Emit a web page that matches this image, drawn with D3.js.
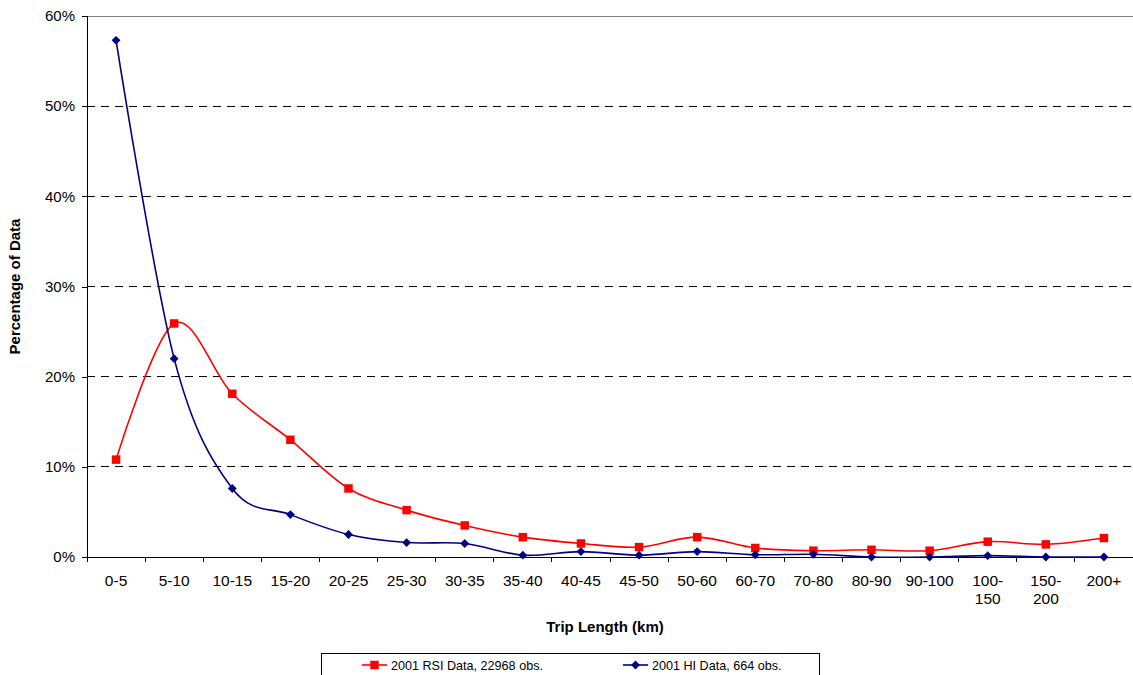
<!DOCTYPE html>
<html>
<head>
<meta charset="utf-8">
<script src="https://cdn.jsdelivr.net/npm/d3@7"></script>
<style>
  html, body { margin: 0; padding: 0; background: #fff; }
  svg { display: block; font-family: Arial, "Liberation Sans", sans-serif; }
</style>
</head>
<body>
<svg id="chart" width="1133" height="675"></svg>
<script>
// Trip length bins (km); "100-150" and "150-200" wrap onto two lines
const categories = ["0-5","5-10","10-15","15-20","20-25","25-30","30-35","35-40","40-45",
  "45-50","50-60","60-70","70-80","80-90","90-100","100-150","150-200","200+"];

// Share of trips in each bin (%)
const rsiValues = [10.8, 25.9, 18.1, 13.0, 7.6, 5.2, 3.5, 2.2, 1.5, 1.1, 2.2, 1.0, 0.7, 0.8, 0.7, 1.7, 1.4, 2.1];
const hiValues  = [57.3, 22.0, 7.6, 4.7, 2.5, 1.6, 1.5, 0.2, 0.6, 0.2, 0.6, 0.25, 0.3, 0.0, 0.0, 0.15, 0.0, 0.0];

const yTicks = [0, 10, 20, 30, 40, 50, 60];

const seriesNames = ["2001 RSI Data, 22968 obs.", "2001 HI Data, 664 obs."];

const svg = d3.select("#chart");
const margin = { left: 87, top: 16, right: 0, bottom: 118 };
const W = 1133, H = 675;
const plotW = W - margin.left - margin.right;
const plotH = H - margin.top - margin.bottom;

const x = d3.scaleBand().domain(categories).range([margin.left, margin.left + plotW]).padding(0);
const y = d3.scaleLinear().domain([0, 60]).range([margin.top + plotH, margin.top]);

// Dashed horizontal gridlines (60% is the plot-area border)
svg.append("g").selectAll("line")
  .data(yTicks.filter(t => t > 0 && t < 60))
  .join("line")
  .attr("x1", margin.left).attr("x2", margin.left + plotW)
  .attr("y1", d => y(d)).attr("y2", d => y(d))
  .attr("stroke", "#000").attr("stroke-width", 1)
  .attr("stroke-dasharray", "8,6")
  .attr("shape-rendering", "crispEdges");

svg.append("line")
  .attr("x1", margin.left).attr("x2", margin.left + plotW)
  .attr("y1", y(60)).attr("y2", y(60))
  .attr("stroke", "#808080").attr("stroke-width", 1)
  .attr("shape-rendering", "crispEdges");

// Y axis
const yAxis = d3.axisLeft(y).tickValues(yTicks).tickFormat(d => d + "%").tickSize(5).tickPadding(7);
const gy = svg.append("g").attr("transform", `translate(${margin.left},0)`).call(yAxis);
gy.select(".domain").attr("stroke", "#000").attr("shape-rendering", "crispEdges");
gy.selectAll(".tick line").attr("stroke", "#000").attr("shape-rendering", "crispEdges");
gy.selectAll("text").attr("font-size", 15).attr("fill", "#000")
  .attr("font-family", "Arial, 'Liberation Sans', sans-serif");

// X axis: ticks at bin boundaries, labels centred in bins
const gx = svg.append("g").attr("transform", `translate(0,${margin.top + plotH})`);
gx.append("line")
  .attr("x1", margin.left - 5).attr("x2", margin.left + plotW)
  .attr("stroke", "#000").attr("shape-rendering", "crispEdges");
const boundaries = categories.map(c => x(c)).concat([margin.left + plotW]);
gx.selectAll("line.tick").data(boundaries).join("line")
  .attr("class", "tick")
  .attr("x1", d => d).attr("x2", d => d).attr("y1", 0).attr("y2", 5)
  .attr("stroke", "#000").attr("shape-rendering", "crispEdges");
const xl = gx.selectAll("text.lbl").data(categories).join("text")
  .attr("class", "lbl")
  .attr("text-anchor", "middle")
  .attr("font-size", 15.5)
  .attr("fill", "#000");
xl.each(function(d) {
  const parts = (d === "100-150" || d === "150-200") ? [d.split("-")[0] + "-", d.split("-")[1]] : [d];
  const t = d3.select(this);
  parts.forEach((p, i) => {
    t.append("tspan").attr("x", x(d) + x.bandwidth() / 2).attr("y", 29 + i * 18).text(p);
  });
});

// Axis titles
svg.append("text")
  .attr("x", margin.left + plotW * 0.5 - 5).attr("y", 632)
  .attr("text-anchor", "middle").attr("font-size", 15).attr("font-weight", "bold")
  .text("Trip Length (km)");
svg.append("text")
  .attr("transform", `translate(20,${margin.top + plotH / 2}) rotate(-90)`)
  .attr("text-anchor", "middle").attr("font-size", 15).attr("font-weight", "bold")
  .text("Percentage of Data");

// Smoothed series lines
const cx = (d, i) => x(categories[i]) + x.bandwidth() / 2;
const line = d3.line().x(cx).y(d => y(d)).curve(d3.curveCatmullRom.alpha(0));

const red = "#ff0000", navy = "#000080";

svg.append("path").datum(rsiValues).attr("d", line)
  .attr("fill", "none").attr("stroke", red).attr("stroke-width", 1.6);
svg.append("path").datum(hiValues).attr("d", line)
  .attr("fill", "none").attr("stroke", navy).attr("stroke-width", 1.6);

// Markers
const sq = d3.symbol().type(d3.symbolSquare).size(72);
const dia = d3.symbol().type(d3.symbolDiamond2).size(50);

svg.append("g").selectAll("path").data(rsiValues).join("path")
  .attr("d", sq)
  .attr("transform", (d, i) => `translate(${cx(d, i)},${y(d)})`)
  .attr("fill", red);
svg.append("g").selectAll("path").data(hiValues).join("path")
  .attr("d", dia)
  .attr("transform", (d, i) => `translate(${cx(d, i)},${y(d)})`)
  .attr("fill", navy);

// Legend
const lg = svg.append("g");
lg.append("rect")
  .attr("x", 321.5).attr("y", 653.5).attr("width", 498).attr("height", 40)
  .attr("fill", "#fff").attr("stroke", "#000").attr("stroke-width", 1);
const legendItems = [
  { name: seriesNames[0], color: red, shape: sq, x0: 362 },
  { name: seriesNames[1], color: navy, shape: dia, x0: 623 }
];
legendItems.forEach(it => {
  lg.append("line").attr("x1", it.x0).attr("x2", it.x0 + 25).attr("y1", 665).attr("y2", 665)
    .attr("stroke", it.color).attr("stroke-width", 1.6);
  lg.append("path").attr("d", it.shape)
    .attr("transform", `translate(${it.x0 + 12.5},665)`)
    .attr("fill", it.color);
  lg.append("text").attr("x", it.x0 + 29).attr("y", 670)
    .attr("font-size", 12.6).attr("fill", "#000").text(it.name);
});
</script>
</body>
</html>
